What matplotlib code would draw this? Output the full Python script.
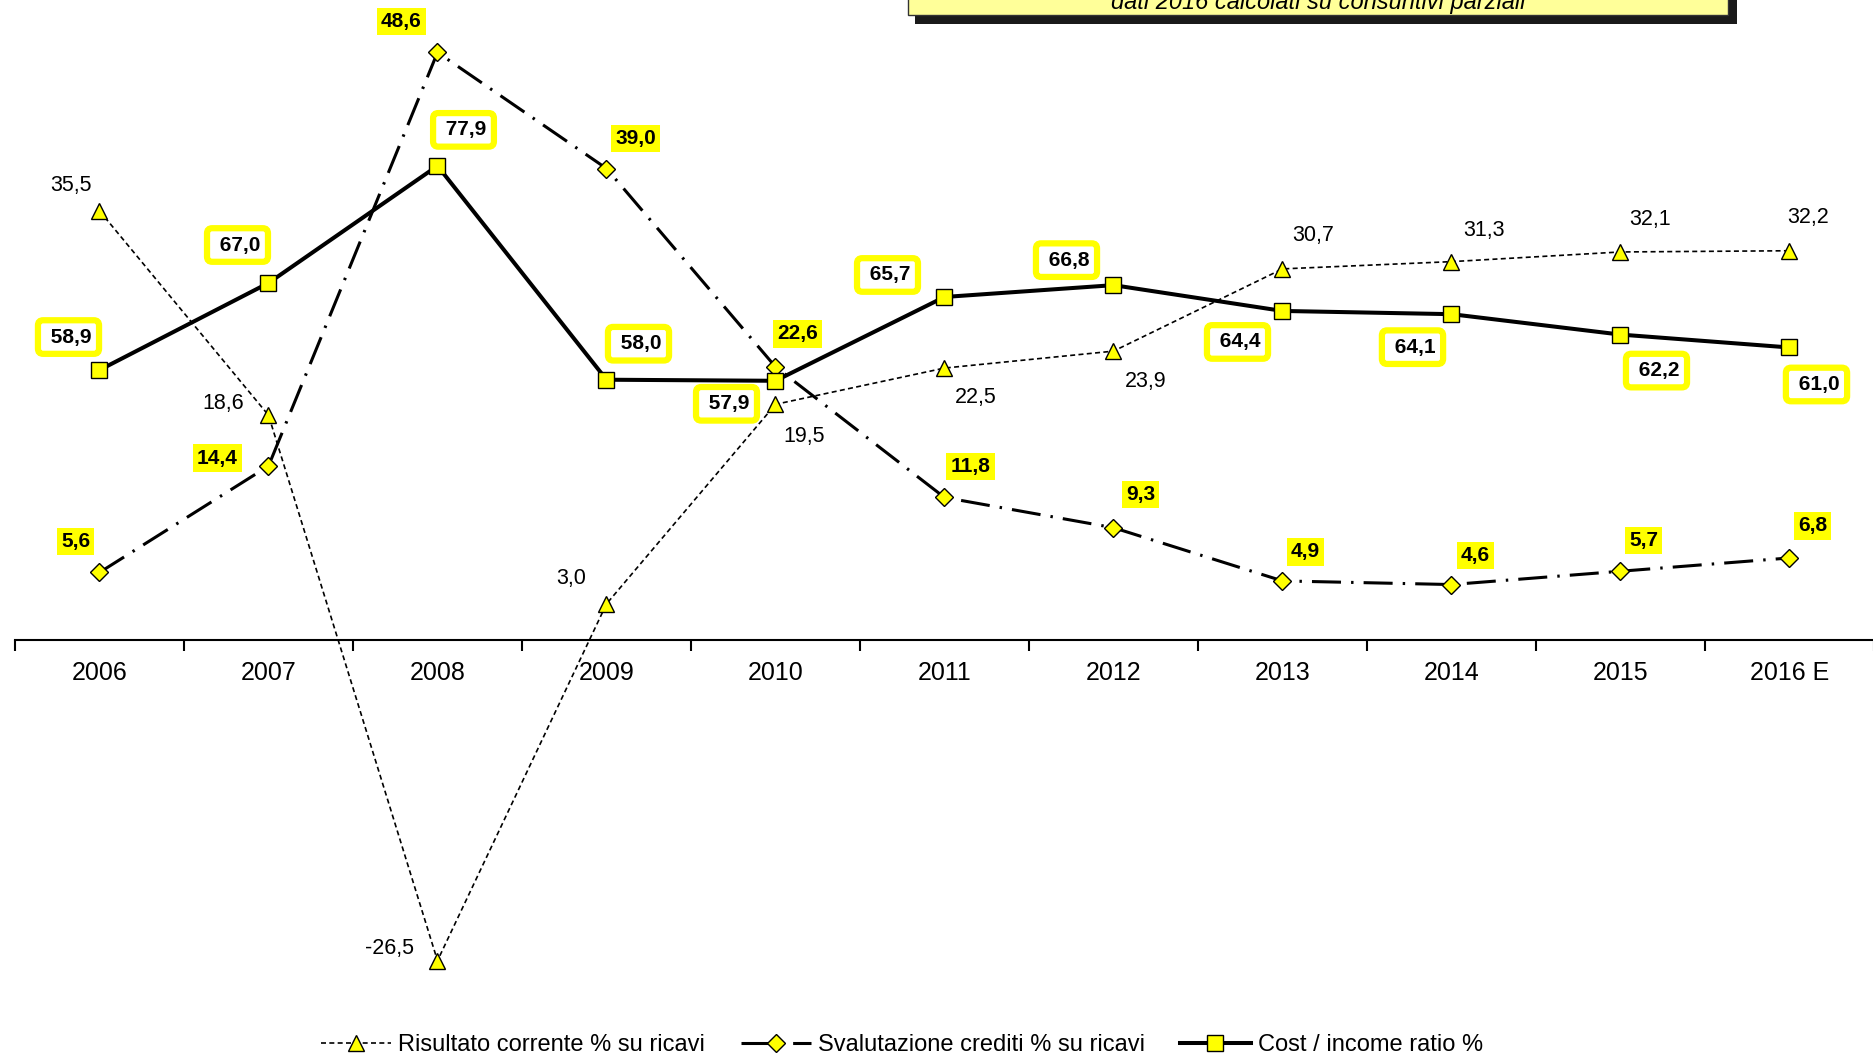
import matplotlib
matplotlib.use('Agg')
import matplotlib.pyplot as plt
from matplotlib.patches import Rectangle
import numpy as np

plt.rcParams['font.family'] = ['Liberation Sans', 'DejaVu Sans']

# data
years = ['2006', '2007', '2008', '2009', '2010', '2011', '2012', '2013', '2014', '2015', '2016 E']
risultato = [35.5, 18.6, -26.5, 3.0, 19.5, 22.5, 23.9, 30.7, 31.3, 32.1, 32.2]
svalutazione = [5.6, 14.4, 48.6, 39.0, 22.6, 11.8, 9.3, 4.9, 4.6, 5.7, 6.8]
cost_income = [58.9, 67.0, 77.9, 58.0, 57.9, 65.7, 66.8, 64.4, 64.1, 62.2, 61.0]

# label offsets in pixels (dx, dy)
tri_off = [(-29, 25), (-45, 12), (-48, 12), (-35, 25), (29, -32), (31, -29),
           (32, -30), (31, 33), (32, 31), (30, 32), (19, 33)]
dia_off = [(-24, 31), (-51, 8), (-36, 31), (29, 30), (22, 33), (26, 31),
           (27, 33), (23, 29), (24, 29), (23, 31), (23, 32)]
sq_off = [(-31, 33), (-31, 38), (26, 36), (32, 36), (-49, -23), (-57, 22),
          (-47, 25), (-45, -31), (-39, -33), (36, -36), (27, -37)]

YELLOW = '#FFFF00'


def fmt(v):
    return f"{v:.1f}".replace('.', ',')


W, H = 1874, 1061
fig = plt.figure(figsize=(W / 100, H / 100), dpi=100)
ax = fig.add_axes([15 / W, (H - 1003) / H, 1859 / W, 1080 / H])
ax2 = ax.twinx()

x = np.arange(len(years))
l1, = ax.plot(x, risultato, color='black', lw=1.2, ls=(0, (3, 2)), marker='^', ms=12,
              mfc=YELLOW, mec='black', mew=1, label='Risultato corrente % su ricavi')
l2, = ax.plot(x, svalutazione, color='black', lw=2.2, ls=(0, (9.5, 3.3, 0.8, 3.3)), marker='D',
              ms=9, mfc=YELLOW, mec='black', mew=1, label='Svalutazione crediti % su ricavi')
l3, = ax2.plot(x, cost_income, color='black', lw=2.9, marker='s', ms=12,
               mfc=YELLOW, mec='black', mew=1, label='Cost / income ratio %')

ax.set_xlim(-0.5, 10.5)
ax.set_ylim(-30, 59.3)
ax2.set_ylim(0, 100.5)

for s in ['left', 'right', 'top']:
    ax.spines[s].set_visible(False)
for s in ax2.spines.values():
    s.set_visible(False)
ax.spines['bottom'].set_position(('data', 0))
ax.spines['bottom'].set_linewidth(1.5)

ax.set_xticks(np.arange(-0.5, 11, 1))
ax.set_xticklabels([])
ax.set_xticks(x, minor=True)
ax.set_xticklabels(years, minor=True)
ax.tick_params(axis='x', which='major', length=8, width=1.5, direction='out')
ax.tick_params(axis='x', which='minor', length=0, pad=15, labelsize=18)
ax.set_yticks([])
ax2.set_yticks([])

for i, v in enumerate(risultato):
    ax2.annotate(fmt(v), xy=(i, v), xycoords=ax.transData, xytext=tri_off[i],
                 textcoords='offset pixels', ha='center', va='center', fontsize=15.5)
for i, v in enumerate(svalutazione):
    ax2.annotate(fmt(v), xy=(i, v), xycoords=ax.transData, xytext=dia_off[i],
                 textcoords='offset pixels', ha='center', va='center', fontsize=15,
                 fontweight='bold', bbox=dict(boxstyle='square,pad=0.2', fc=YELLOW, ec='none'))
for i, v in enumerate(cost_income):
    ax2.annotate(' ' + fmt(v), xy=(i, v), xytext=sq_off[i],
                 textcoords='offset pixels', ha='center', va='center', fontsize=15,
                 fontweight='bold',
                 bbox=dict(boxstyle='round,pad=0.35,rounding_size=0.25', fc='white', ec=YELLOW, lw=4.5))

# title box, cut off at the top like the source
fig.add_artist(Rectangle((915 / W, (H - 24) / H), 822 / W, 80 / H, transform=fig.transFigure,
                         fc='#1a1a1a', ec='none'))
fig.add_artist(Rectangle((908 / W, (H - 15) / H), 820 / W, 80 / H, transform=fig.transFigure,
                         fc='#FFFF99', ec='#333333', lw=1))
fig.text(1318 / W, (H - 9) / H, 'dati 2016 calcolati su consuntivi parziali', ha='center',
         va='baseline', style='italic', fontsize=17)

fig.legend([l1, l2, l3], [l.get_label() for l in (l1, l2, l3)], loc='center',
           bbox_to_anchor=(902 / W, 16 / H), ncol=3, frameon=False, fontsize=17,
           handlelength=2.97, handletextpad=0.3, columnspacing=1.5)

fig.savefig('out.png', dpi=100)
